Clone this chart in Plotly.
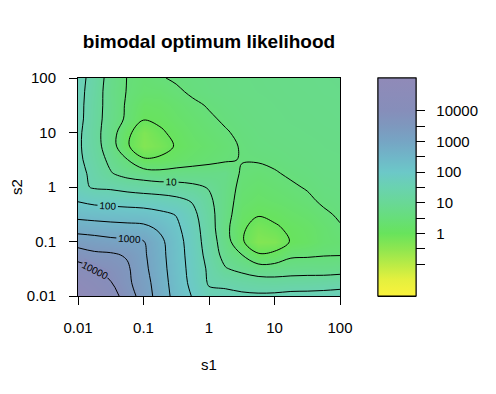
import plotly.graph_objects as go

# ---------------- data (log10 of s1, s2 grid; log10 of likelihood) ----------------
log_s = [-2.0, -1.75, -1.5, -1.25, -1.0, -0.75, -0.5, -0.25, 0.0,
         0.25, 0.5, 0.75, 1.0, 1.25, 1.5, 1.75, 2.0]

# rows: s2 from 0.01 (first) to 100 (last); columns: s1 from 0.01 to 100
log_likelihood = [
    [5.05, 4.68, 4.25, 3.76, 3.28, 2.78, 2.33, 1.97, 1.62, 1.66, 1.60, 1.58, 1.60, 1.65, 1.66, 1.67, 1.70],
    [4.68, 4.40, 4.02, 3.61, 3.21, 2.74, 2.28, 1.87, 1.45, 1.36, 1.27, 1.20, 1.17, 1.20, 1.21, 1.25, 1.29],
    [4.25, 4.02, 3.84, 3.58, 3.13, 2.69, 2.25, 1.83, 1.42, 1.03, 0.88, 0.74, 0.74, 0.78, 0.80, 0.77, 0.80],
    [3.76, 3.61, 3.58, 3.45, 3.08, 2.66, 2.22, 1.80, 1.33, 0.83, 0.52, 0.06, 0.12, 0.42, 0.44, 0.48, 0.49],
    [3.28, 3.21, 3.13, 3.08, 3.02, 2.62, 2.20, 1.76, 1.27, 0.73, 0.06, -0.35, -0.30, 0.03, 0.14, 0.32, 0.38],
    [2.78, 2.74, 2.69, 2.66, 2.62, 2.42, 2.10, 1.72, 1.22, 0.65, 0.08, -0.20, -0.06, 0.08, 0.18, 0.33, 0.47],
    [2.33, 2.28, 2.25, 2.22, 2.20, 2.10, 1.98, 1.63, 1.17, 0.70, 0.20, 0.04, 0.10, 0.22, 0.30, 0.44, 0.55],
    [1.97, 1.87, 1.83, 1.80, 1.76, 1.72, 1.63, 1.46, 1.09, 0.72, 0.30, 0.20, 0.27, 0.34, 0.43, 0.56, 0.60],
    [1.62, 1.45, 1.42, 1.33, 1.27, 1.22, 1.17, 1.09, 0.97, 0.73, 0.38, 0.30, 0.37, 0.45, 0.53, 0.62, 0.64],
    [1.66, 1.36, 1.03, 0.83, 0.73, 0.65, 0.70, 0.72, 0.73, 0.77, 0.45, 0.40, 0.47, 0.55, 0.60, 0.66, 0.67],
    [1.60, 1.27, 0.88, 0.52, 0.06, 0.08, 0.20, 0.30, 0.38, 0.45, 0.52, 0.53, 0.57, 0.62, 0.65, 0.69, 0.70],
    [1.58, 1.20, 0.74, 0.06, -0.35, -0.20, 0.04, 0.20, 0.30, 0.40, 0.53, 0.60, 0.63, 0.66, 0.68, 0.71, 0.72],
    [1.60, 1.17, 0.74, 0.12, -0.30, -0.06, 0.10, 0.27, 0.37, 0.47, 0.57, 0.63, 0.67, 0.69, 0.71, 0.73, 0.74],
    [1.65, 1.20, 0.78, 0.42, 0.03, 0.08, 0.22, 0.34, 0.45, 0.55, 0.62, 0.66, 0.69, 0.72, 0.73, 0.75, 0.76],
    [1.66, 1.21, 0.80, 0.44, 0.14, 0.18, 0.30, 0.43, 0.53, 0.60, 0.65, 0.68, 0.71, 0.73, 0.75, 0.76, 0.77],
    [1.67, 1.25, 0.77, 0.48, 0.32, 0.33, 0.44, 0.56, 0.62, 0.66, 0.69, 0.71, 0.73, 0.75, 0.76, 0.78, 0.79],
    [1.70, 1.29, 0.80, 0.49, 0.38, 0.47, 0.55, 0.60, 0.64, 0.67, 0.70, 0.72, 0.74, 0.76, 0.77, 0.79, 0.80],
]

axis_tick_vals = [-2, -1, 0, 1, 2]
axis_tick_text = ["0.01", "0.1", "1", "10", "100"]

cb_tick_vals = [-1, -0.5, 0, 0.5, 1, 1.5, 2, 2.5, 3, 3.5, 4]
cb_tick_text = ["", "", "1", "", "10", "", "100", "", "1000", "", "10000"]

# label of the short top contour (too short for automatic placement)
corner_label = {"text": "10000", "log_s1": -1.74, "log_s2": -1.53}

title_text = "bimodal optimum likelihood"
x_title = "s1"
y_title = "s2"

# ---------------- style ----------------
FONT = "Liberation Sans, Arial, sans-serif"
ZMIN, ZMAX = -2.04, 5.07
cs_logs = [-2.04, -1.5, -1.0, -0.5, 0.0, 0.5, 1.0, 1.5, 2.0, 2.5, 3.0, 3.5, 4.0, 5.07]
cs_cols = ['rgb(250,242,60)', 'rgb(228,240,62)', 'rgb(185,235,70)', 'rgb(142,230,80)',
           'rgb(104,227,92)', 'rgb(103,222,122)', 'rgb(105,216,150)', 'rgb(106,210,176)',
           'rgb(108,200,200)', 'rgb(112,182,200)', 'rgb(118,165,196)', 'rgb(126,152,190)',
           'rgb(134,142,186)', 'rgb(144,138,184)']
colorscale = [[(v - ZMIN) / (ZMAX - ZMIN), c] for v, c in zip(cs_logs, cs_cols)]
black_scale = [[0, 'black'], [1, 'black']]

cb_common = dict(thickness=38, thicknessmode='pixels', len=218, lenmode='pixels',
                 x=1.145, xanchor='left', y=0.5, yanchor='middle', xpad=0, ypad=0,
                 outlinewidth=1, outlinecolor='black', tickmode='array', tickvals=cb_tick_vals)
PAD = '\u00a0\u00a0'

fig = go.Figure()

# labelled contour levels (10, 100, 1000, 10000); its (covered) colorbar supplies label text
fig.add_trace(go.Contour(
    x=log_s, y=log_s, z=log_likelihood,
    contours=dict(start=1, end=4, size=1, coloring='lines', showlabels=True,
                  labelfont=dict(family=FONT, size=10, color='black')),
    colorscale=black_scale, line=dict(width=1), showscale=True,
    colorbar=dict(**cb_common, ticktext=cb_tick_text, ticks='', showticklabels=False),
    hoverinfo='skip'))

# unlabelled half-decade contour levels
fig.add_trace(go.Contour(
    x=log_s, y=log_s, z=log_likelihood,
    contours=dict(start=0, end=0.5, size=0.5, coloring='lines', showlabels=False),
    colorscale=black_scale, line=dict(width=1), showscale=False, hoverinfo='skip'))
fig.add_trace(go.Contour(
    x=log_s, y=log_s, z=log_likelihood,
    contours=dict(start=1.5, end=3.5, size=1, coloring='lines', showlabels=False),
    colorscale=black_scale, line=dict(width=1), showscale=False, hoverinfo='skip'))

# smooth colour image with visible colour key
fig.add_trace(go.Heatmap(
    x=log_s, y=log_s, z=log_likelihood, zsmooth='best',
    colorscale=colorscale, zmin=ZMIN, zmax=ZMAX,
    colorbar=dict(**cb_common, ticktext=[(PAD + t) if t else t for t in cb_tick_text],
                  ticks='outside', ticklen=9, tickwidth=1, tickcolor='black',
                  tickfont=dict(family=FONT, size=15, color='black')),
    hoverinfo='skip'))

fig.add_annotation(x=corner_label["log_s1"], y=corner_label["log_s2"], xref='x', yref='y',
                   text=corner_label["text"], showarrow=False, textangle=27,
                   font=dict(family=FONT, size=10, color='black'),
                   bgcolor='rgb(136,141,186)', borderpad=0)

axis_common = dict(range=[-2, 2], tickmode='array', tickvals=axis_tick_vals,
                   ticktext=axis_tick_text, ticks='outside', ticklen=8, tickwidth=1,
                   tickcolor='black', showline=True, linecolor='black', linewidth=1,
                   mirror=True, showgrid=False, zeroline=False,
                   tickfont=dict(family=FONT, size=15, color='black'))

fig.update_layout(
    width=496, height=394,
    margin=dict(l=70, r=164, t=70, b=106, pad=0, autoexpand=False),
    paper_bgcolor='white', plot_bgcolor='white',
    title=dict(text='<b>' + title_text + '</b>', x=0.5, xref='paper', xanchor='center',
               y=0.916, yref='container', yanchor='middle',
               font=dict(family=FONT, size=19, color='black')),
    xaxis=dict(**axis_common, ticklabelstandoff=10,
               title=dict(text=x_title, standoff=24, font=dict(family=FONT, size=15, color='black'))),
    yaxis=dict(**axis_common, ticklabelstandoff=10,
               title=dict(text=y_title, standoff=11, font=dict(family=FONT, size=15, color='black'))),
    showlegend=False,
)

fig.write_html("out.html")
